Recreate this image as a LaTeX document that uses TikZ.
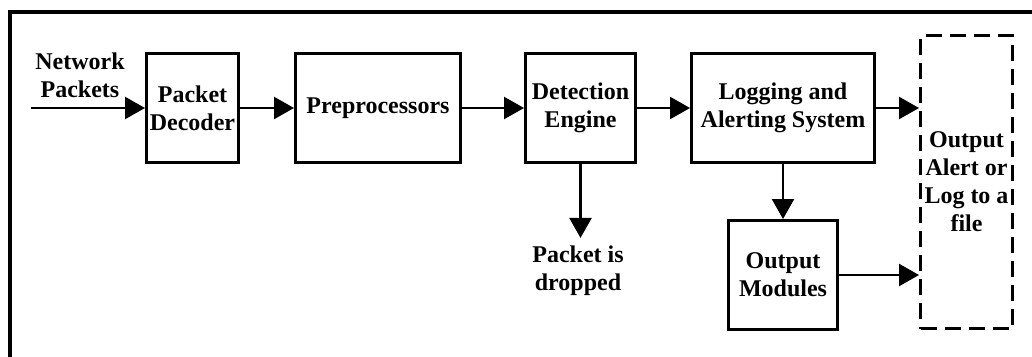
\documentclass[tikz,border=0pt]{standalone}
\usepackage{fontspec}
\setmainfont{Liberation Serif}
\usetikzlibrary{arrows.meta}
\begin{document}
\begin{tikzpicture}[x=1pt,y=-1pt,
  font=\fontsize{24}{28}\selectfont\bfseries,
  block/.style={draw, line width=3pt, align=center, inner sep=0pt},
  sink/.style={draw, line width=3pt, dash pattern=on 16pt off 8pt, align=center, inner sep=0pt},
  label/.style={align=center, inner sep=0pt},
  flow/.style={line width=2.4pt, -{Triangle[length=20pt,width=22pt]}}]
  \useasboundingbox (0,0) rectangle (1032,356);
  \clip (0,0) rectangle (1032,356);
  % outer frame, running past the page edges
  \draw[line width=4pt] (10,400) -- (10,12) -- (1100,12);

  \node[block, minimum width=92pt, minimum height=109pt] (dec) at (192.5,108) {Packet\\Decoder};
  \node[block, minimum width=165pt, minimum height=109pt] (pre) at (378,108) {Preprocessors};
  \node[block, minimum width=110pt, minimum height=109pt] (det) at (580.5,108) {Detection\\Engine};
  \node[block, minimum width=183pt, minimum height=109pt] (log) at (783,108) {Logging and\\Alerting System};
  \node[block, minimum width=109pt, minimum height=109pt] (mod) at (783,275) {Output\\Modules};
  \node[sink, minimum width=92pt, minimum height=293pt] (out) at (966.5,182) {Output\\Alert or\\Log to a\\file};

  \node[label] (net) at (80,75) {Network\\Packets};
  \node[label, inner sep=8pt] (drop) at (578,271) {Packet is\\dropped};
  \coordinate (in) at (31,108);

  \draw[flow] (in) -- (dec.west);
  \draw[flow] (dec) -- (pre);
  \draw[flow] (pre) -- (det);
  \draw[flow] (det) -- (log);
  \draw[flow] (log.east) -- (log.east -| out.west);
  \draw[flow] (det.south) -- (det.south |- drop.north);
  \draw[flow] (log.south) -- (mod.north);
  \draw[flow] (mod.east) -- (mod.east -| out.west);
\end{tikzpicture}
\end{document}
